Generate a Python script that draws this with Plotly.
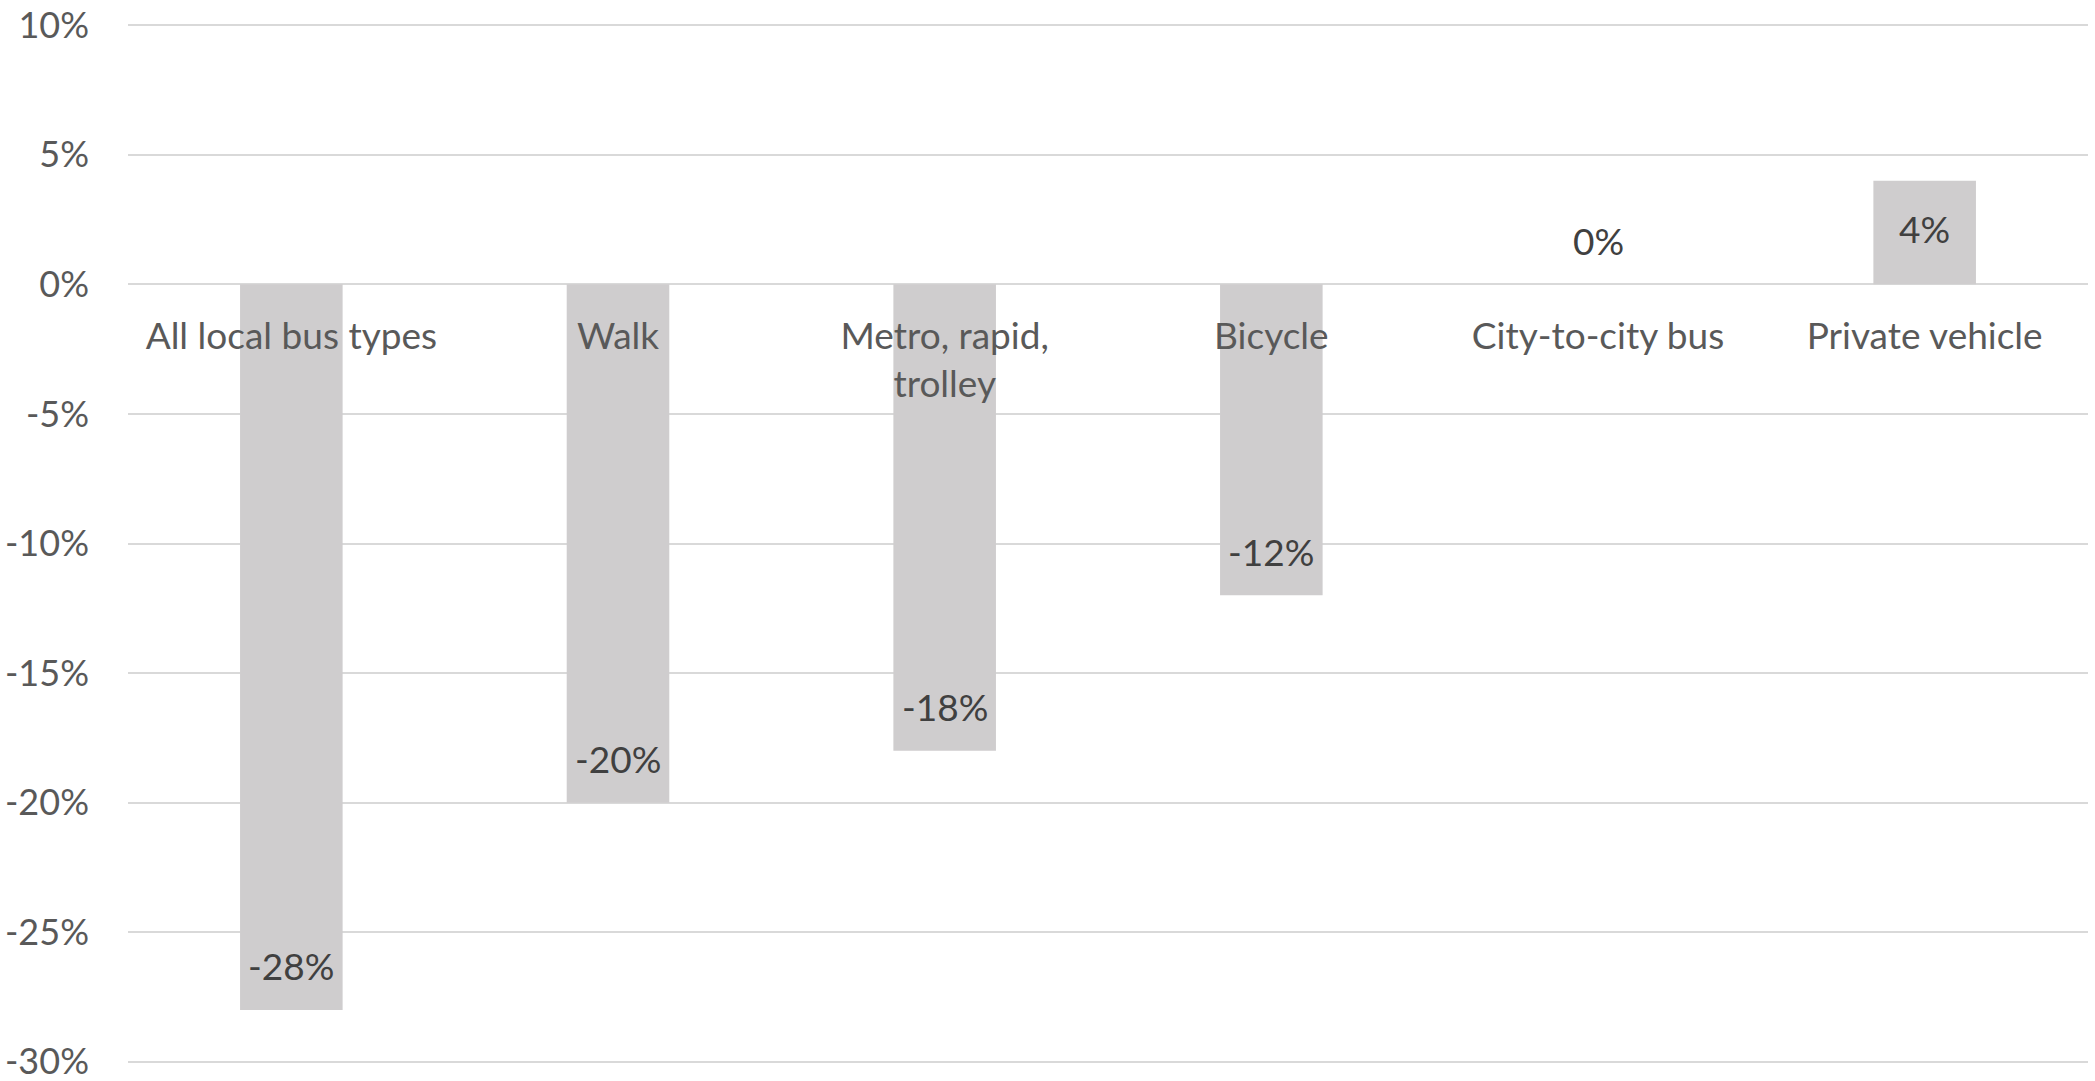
import plotly.graph_objects as go

categories = ["All local bus types", "Walk", "Metro, rapid,<br>trolley", "Bicycle",
              "City-to-city bus", "Private vehicle"]
values = [-28, -20, -18, -12, 0, 4]
tick_vals = [10, 5, 0, -5, -10, -15, -20, -25, -30]
tick_text = ["10%", "5%", "0%", "-5%", "-10%", "-15%", "-20%", "-25%", "-30%"]

FONT = "Lato"
TICK_COLOR = "#595959"
LABEL_COLOR = "#404040"
FS = 37
TICK_FS = 36

Y_LO, Y_HI = -30.2, 10.2

fig = go.Figure()
fig.add_trace(go.Bar(
    x=categories, y=values,
    marker=dict(color="#CFCDCE", line=dict(width=0)),
    hoverinfo="skip", showlegend=False,
))

for c, v in zip(categories, values):
    fig.add_annotation(
        x=c, y=v, xref="x", yref="y",
        text=f"{v}%", showarrow=False,
        yshift=44 if v <= 0 else -48,
        font=dict(family=FONT, size=FS, color=LABEL_COLOR),
    )

fig.update_layout(
    width=2095, height=1081,
    margin=dict(l=128, r=7, t=20, b=14),
    paper_bgcolor="white", plot_bgcolor="white",
    bargap=0.686,
    font=dict(family=FONT, size=FS, color=TICK_COLOR),
)
fig.update_yaxes(
    range=[Y_LO, Y_HI], tickvals=tick_vals, ticktext=tick_text,
    showgrid=True, gridcolor="#D9D9D9", gridwidth=2,
    zeroline=False, showline=False, ticks="",
    automargin=False, ticklabeloverflow="allow",
    ticklabelstandoff=38,
    tickfont=dict(family=FONT, size=TICK_FS, color=TICK_COLOR),
)
fig.update_xaxes(
    anchor="free", position=(0 - Y_LO) / (Y_HI - Y_LO),
    showgrid=False, zeroline=False, showline=False, ticks="",
    automargin=False, ticklabeloverflow="allow",
    ticklabelstandoff=27,
    tickfont=dict(family=FONT, size=FS, color=TICK_COLOR),
)

# remove the default page margin so the chart fills the window exactly
fig.write_html(
    "out.html",
    config={"displayModeBar": False},
    post_script="document.body.style.margin='0';document.body.style.overflow='hidden';",
)
